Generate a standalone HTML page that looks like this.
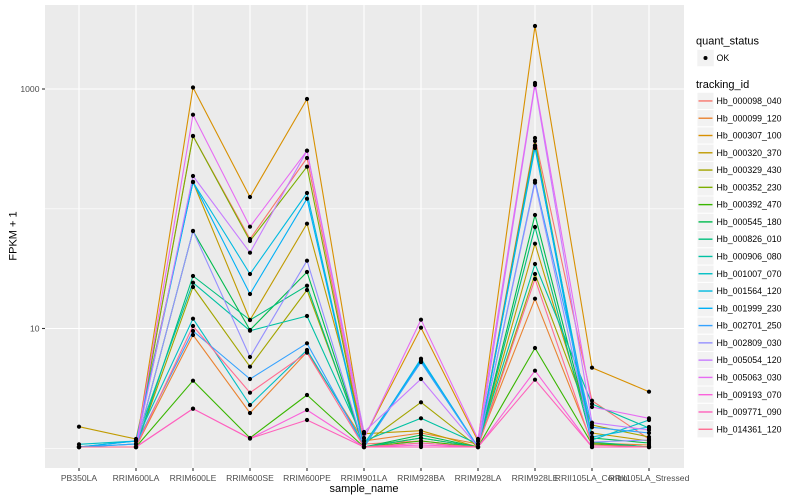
<!DOCTYPE html>
<html><head><meta charset="utf-8"><style>
html,body{margin:0;padding:0;background:#fff;}
svg{display:block;}
text{font-family:"Liberation Sans",Arial,sans-serif;}
</style></head><body>
<svg width="800" height="500" viewBox="0 0 800 500" xmlns="http://www.w3.org/2000/svg">
<defs>
<marker id="dot" markerUnits="userSpaceOnUse" markerWidth="6" markerHeight="6" refX="3" refY="3" viewBox="0 0 6 6">
<circle cx="3" cy="3" r="2.1" fill="#000"/>
</marker>
</defs>
<rect x="0" y="0" width="800" height="500" fill="#fff"/>
<!-- panel -->
<rect x="45" y="5" width="639" height="463" fill="#EBEBEB"/>
<!-- minor grid -->
<g stroke="#fff" stroke-width="0.55">
<line x1="45" x2="684" y1="208.8" y2="208.8"/>
<line x1="45" x2="684" y1="448.3" y2="448.3"/>
</g>
<!-- major grid -->
<g stroke="#fff" stroke-width="1.1">
<line x1="45" x2="684" y1="89" y2="89"/>
<line x1="45" x2="684" y1="328.5" y2="328.5"/>
<line x1="79" x2="79" y1="5" y2="468"/>
<line x1="136" x2="136" y1="5" y2="468"/>
<line x1="193" x2="193" y1="5" y2="468"/>
<line x1="250" x2="250" y1="5" y2="468"/>
<line x1="307" x2="307" y1="5" y2="468"/>
<line x1="364" x2="364" y1="5" y2="468"/>
<line x1="421" x2="421" y1="5" y2="468"/>
<line x1="478" x2="478" y1="5" y2="468"/>
<line x1="535" x2="535" y1="5" y2="468"/>
<line x1="592" x2="592" y1="5" y2="468"/>
<line x1="649" x2="649" y1="5" y2="468"/>
</g>
<!-- series lines -->
<g fill="none" stroke-width="1.1" stroke-linejoin="round">
<polyline stroke="#F8766D" points="79,447 136,447 193,136 250,239 307,158 364,444 421,441 478,447 535,138 592,400.7 649,439"/>
<polyline stroke="#EA8331" points="79,447 136,447 193,335 250,413 307,352 364,441 421,433 478,444 535,298.7 592,443 649,445"/>
<polyline stroke="#D89000" points="79,447 136,447 193,87.5 250,197 307,99 364,438 421,327.7 478,441 535,26 592,367.7 649,391.7"/>
<polyline stroke="#C09B00" points="79,426.7 136,439 193,182 250,320 307,223.7 364,433.7 421,430.7 478,447 535,243.7 592,433 649,441"/>
<polyline stroke="#A3A500" points="79,447 136,447 193,287 250,366.7 307,290 364,444 421,402.3 478,447 535,274 592,425 649,437"/>
<polyline stroke="#7CAE00" points="79,447 136,447 193,136 250,241 307,166.7 364,447 421,438 478,447 535,141 592,442.7 649,447"/>
<polyline stroke="#39B600" points="79,447 136,447 193,380.7 250,438 307,395 364,447 421,441 478,447 535,348 592,444 649,447"/>
<polyline stroke="#00BB4E" points="79,447 136,447 193,231 250,330 307,272 364,447 421,435 478,447 535,215 592,438 649,443"/>
<polyline stroke="#00BF7D" points="79,447 136,447 193,276 250,320 307,285.7 364,447 421,438 478,447 535,227 592,442 649,447"/>
<polyline stroke="#00C1A3" points="79,447 136,441 193,282.7 250,330.7 307,316 364,441 421,418.3 478,444 535,264 592,404 649,428"/>
<polyline stroke="#00BFC4" points="79,444.3 136,441 193,318.7 250,405 307,350 364,444 421,362 478,447 535,148 592,440 649,420"/>
<polyline stroke="#00BAE0" points="79,447 136,444 193,182 250,274 307,193 364,447 421,358.7 478,447 535,145.7 592,437 649,427"/>
<polyline stroke="#00B0F6" points="79,447 136,441 193,182 250,294 307,198.7 364,447 421,360.3 478,447 535,145.7 592,447 649,447"/>
<polyline stroke="#35A2FF" points="79,447 136,444 193,331 250,379 307,343.3 364,447 421,362 478,447 535,180.7 592,427.3 649,433"/>
<polyline stroke="#9590FF" points="79,447 136,447 193,231 250,357 307,260.7 364,447 421,443 478,447 535,182.7 592,442 649,440"/>
<polyline stroke="#C77CFF" points="79,447 136,447 193,176 250,252.7 307,150.7 364,432 421,379 478,447 535,85 592,422.7 649,430"/>
<polyline stroke="#E76BF3" points="79,447 136,447 193,114.7 250,226.7 307,150.7 364,438.3 421,319.7 478,439 535,83 592,407 649,418.3"/>
<polyline stroke="#FA62DB" points="79,447 136,447 193,408.7 250,438.5 307,410 364,447 421,445 478,447 535,370.7 592,447 649,447"/>
<polyline stroke="#FF62BC" points="79,447 136,447 193,408.7 250,438.5 307,420 364,447 421,447 478,447 535,379.7 592,447 649,447"/>
<polyline stroke="#FF6C91" points="79,447 136,447 193,326 250,392.7 307,352.7 364,447 421,443 478,447 535,279 592,445 649,447"/>
</g>
<!-- points -->
<g fill="none" stroke="none" marker-start="url(#dot)" marker-mid="url(#dot)" marker-end="url(#dot)">
<polyline points="79,447 136,447 193,136 250,239 307,158 364,444 421,441 478,447 535,138 592,400.7 649,439"/>
<polyline points="79,447 136,447 193,335 250,413 307,352 364,441 421,433 478,444 535,298.7 592,443 649,445"/>
<polyline points="79,447 136,447 193,87.5 250,197 307,99 364,438 421,327.7 478,441 535,26 592,367.7 649,391.7"/>
<polyline points="79,426.7 136,439 193,182 250,320 307,223.7 364,433.7 421,430.7 478,447 535,243.7 592,433 649,441"/>
<polyline points="79,447 136,447 193,287 250,366.7 307,290 364,444 421,402.3 478,447 535,274 592,425 649,437"/>
<polyline points="79,447 136,447 193,136 250,241 307,166.7 364,447 421,438 478,447 535,141 592,442.7 649,447"/>
<polyline points="79,447 136,447 193,380.7 250,438 307,395 364,447 421,441 478,447 535,348 592,444 649,447"/>
<polyline points="79,447 136,447 193,231 250,330 307,272 364,447 421,435 478,447 535,215 592,438 649,443"/>
<polyline points="79,447 136,447 193,276 250,320 307,285.7 364,447 421,438 478,447 535,227 592,442 649,447"/>
<polyline points="79,447 136,441 193,282.7 250,330.7 307,316 364,441 421,418.3 478,444 535,264 592,404 649,428"/>
<polyline points="79,444.3 136,441 193,318.7 250,405 307,350 364,444 421,362 478,447 535,148 592,440 649,420"/>
<polyline points="79,447 136,444 193,182 250,274 307,193 364,447 421,358.7 478,447 535,145.7 592,437 649,427"/>
<polyline points="79,447 136,441 193,182 250,294 307,198.7 364,447 421,360.3 478,447 535,145.7 592,447 649,447"/>
<polyline points="79,447 136,444 193,331 250,379 307,343.3 364,447 421,362 478,447 535,180.7 592,427.3 649,433"/>
<polyline points="79,447 136,447 193,231 250,357 307,260.7 364,447 421,443 478,447 535,182.7 592,442 649,440"/>
<polyline points="79,447 136,447 193,176 250,252.7 307,150.7 364,432 421,379 478,447 535,85 592,422.7 649,430"/>
<polyline points="79,447 136,447 193,114.7 250,226.7 307,150.7 364,438.3 421,319.7 478,439 535,83 592,407 649,418.3"/>
<polyline points="79,447 136,447 193,408.7 250,438.5 307,410 364,447 421,445 478,447 535,370.7 592,447 649,447"/>
<polyline points="79,447 136,447 193,408.7 250,438.5 307,420 364,447 421,447 478,447 535,379.7 592,447 649,447"/>
<polyline points="79,447 136,447 193,326 250,392.7 307,352.7 364,447 421,443 478,447 535,279 592,445 649,447"/>
</g>
<!-- axis ticks -->
<g stroke="#333" stroke-width="1.1">
<line x1="42" x2="45" y1="89" y2="89"/>
<line x1="42" x2="45" y1="328.5" y2="328.5"/>
<line x1="79" x2="79" y1="468" y2="471"/>
<line x1="136" x2="136" y1="468" y2="471"/>
<line x1="193" x2="193" y1="468" y2="471"/>
<line x1="250" x2="250" y1="468" y2="471"/>
<line x1="307" x2="307" y1="468" y2="471"/>
<line x1="364" x2="364" y1="468" y2="471"/>
<line x1="421" x2="421" y1="468" y2="471"/>
<line x1="478" x2="478" y1="468" y2="471"/>
<line x1="535" x2="535" y1="468" y2="471"/>
<line x1="592" x2="592" y1="468" y2="471"/>
<line x1="649" x2="649" y1="468" y2="471"/>
</g>
<g fill="#4D4D4D" font-size="8.6">
<text x="39.5" y="92" text-anchor="end">1000</text>
<text x="39.5" y="331.5" text-anchor="end">10</text>
</g>
<g fill="#4D4D4D" font-size="8.6" text-anchor="middle">
<text x="79" y="481">PB350LA</text>
<text x="136" y="481">RRIM600LA</text>
<text x="193" y="481">RRIM600LE</text>
<text x="250" y="481">RRIM600SE</text>
<text x="307" y="481">RRIM600PE</text>
<text x="364" y="481">RRIM901LA</text>
<text x="421" y="481">RRIM928BA</text>
<text x="478" y="481">RRIM928LA</text>
<text x="535" y="481">RRIM928LE</text>
<text x="592" y="481">RRII105LA_Control</text>
<text x="649" y="481">RRII105LA_Stressed</text>
</g>
<text x="364" y="492" font-size="11" text-anchor="middle" fill="#000">sample_name</text>
<text x="0" y="0" font-size="11" text-anchor="middle" fill="#000" transform="translate(16.5,236) rotate(-90)">FPKM + 1</text>
<!-- legend -->
<text x="696" y="44.5" font-size="11" fill="#000">quant_status</text>
<rect x="697" y="49.5" width="17" height="17" fill="#F2F2F2" stroke="#fff" stroke-width="0.5"/>
<circle cx="705.5" cy="58" r="2" fill="#000"/>
<text x="716.5" y="61" font-size="8.8" fill="#000">OK</text>
<text x="696" y="88" font-size="11" fill="#000">tracking_id</text>
<g stroke="#fff" stroke-width="1" fill="#F2F2F2">
<rect x="697" y="92.3" width="17" height="17.28"/>
<rect x="697" y="109.58" width="17" height="17.28"/>
<rect x="697" y="126.86" width="17" height="17.28"/>
<rect x="697" y="144.14" width="17" height="17.28"/>
<rect x="697" y="161.42" width="17" height="17.28"/>
<rect x="697" y="178.7" width="17" height="17.28"/>
<rect x="697" y="195.98" width="17" height="17.28"/>
<rect x="697" y="213.26" width="17" height="17.28"/>
<rect x="697" y="230.54" width="17" height="17.28"/>
<rect x="697" y="247.82" width="17" height="17.28"/>
<rect x="697" y="265.1" width="17" height="17.28"/>
<rect x="697" y="282.38" width="17" height="17.28"/>
<rect x="697" y="299.66" width="17" height="17.28"/>
<rect x="697" y="316.94" width="17" height="17.28"/>
<rect x="697" y="334.22" width="17" height="17.28"/>
<rect x="697" y="351.5" width="17" height="17.28"/>
<rect x="697" y="368.78" width="17" height="17.28"/>
<rect x="697" y="386.06" width="17" height="17.28"/>
<rect x="697" y="403.34" width="17" height="17.28"/>
<rect x="697" y="420.62" width="17" height="17.28"/>
</g>
<g stroke-width="1.4">
<line x1="698.5" x2="712.5" y1="100.94" y2="100.94" stroke="#F8766D"/>
<line x1="698.5" x2="712.5" y1="118.22" y2="118.22" stroke="#EA8331"/>
<line x1="698.5" x2="712.5" y1="135.5" y2="135.5" stroke="#D89000"/>
<line x1="698.5" x2="712.5" y1="152.78" y2="152.78" stroke="#C09B00"/>
<line x1="698.5" x2="712.5" y1="170.06" y2="170.06" stroke="#A3A500"/>
<line x1="698.5" x2="712.5" y1="187.34" y2="187.34" stroke="#7CAE00"/>
<line x1="698.5" x2="712.5" y1="204.62" y2="204.62" stroke="#39B600"/>
<line x1="698.5" x2="712.5" y1="221.9" y2="221.9" stroke="#00BB4E"/>
<line x1="698.5" x2="712.5" y1="239.18" y2="239.18" stroke="#00BF7D"/>
<line x1="698.5" x2="712.5" y1="256.46" y2="256.46" stroke="#00C1A3"/>
<line x1="698.5" x2="712.5" y1="273.74" y2="273.74" stroke="#00BFC4"/>
<line x1="698.5" x2="712.5" y1="291.02" y2="291.02" stroke="#00BAE0"/>
<line x1="698.5" x2="712.5" y1="308.3" y2="308.3" stroke="#00B0F6"/>
<line x1="698.5" x2="712.5" y1="325.58" y2="325.58" stroke="#35A2FF"/>
<line x1="698.5" x2="712.5" y1="342.86" y2="342.86" stroke="#9590FF"/>
<line x1="698.5" x2="712.5" y1="360.14" y2="360.14" stroke="#C77CFF"/>
<line x1="698.5" x2="712.5" y1="377.42" y2="377.42" stroke="#E76BF3"/>
<line x1="698.5" x2="712.5" y1="394.7" y2="394.7" stroke="#FA62DB"/>
<line x1="698.5" x2="712.5" y1="411.98" y2="411.98" stroke="#FF62BC"/>
<line x1="698.5" x2="712.5" y1="429.26" y2="429.26" stroke="#FF6C91"/>
</g>
<g font-size="8.8" fill="#000">
<text x="716.5" y="104">Hb_000098_040</text>
<text x="716.5" y="121.28">Hb_000099_120</text>
<text x="716.5" y="138.56">Hb_000307_100</text>
<text x="716.5" y="155.84">Hb_000320_370</text>
<text x="716.5" y="173.12">Hb_000329_430</text>
<text x="716.5" y="190.4">Hb_000352_230</text>
<text x="716.5" y="207.68">Hb_000392_470</text>
<text x="716.5" y="224.96">Hb_000545_180</text>
<text x="716.5" y="242.24">Hb_000826_010</text>
<text x="716.5" y="259.52">Hb_000906_080</text>
<text x="716.5" y="276.8">Hb_001007_070</text>
<text x="716.5" y="294.08">Hb_001564_120</text>
<text x="716.5" y="311.36">Hb_001999_230</text>
<text x="716.5" y="328.64">Hb_002701_250</text>
<text x="716.5" y="345.92">Hb_002809_030</text>
<text x="716.5" y="363.2">Hb_005054_120</text>
<text x="716.5" y="380.48">Hb_005063_030</text>
<text x="716.5" y="397.76">Hb_009193_070</text>
<text x="716.5" y="415.04">Hb_009771_090</text>
<text x="716.5" y="432.32">Hb_014361_120</text>
</g>
</svg>
</body></html>
